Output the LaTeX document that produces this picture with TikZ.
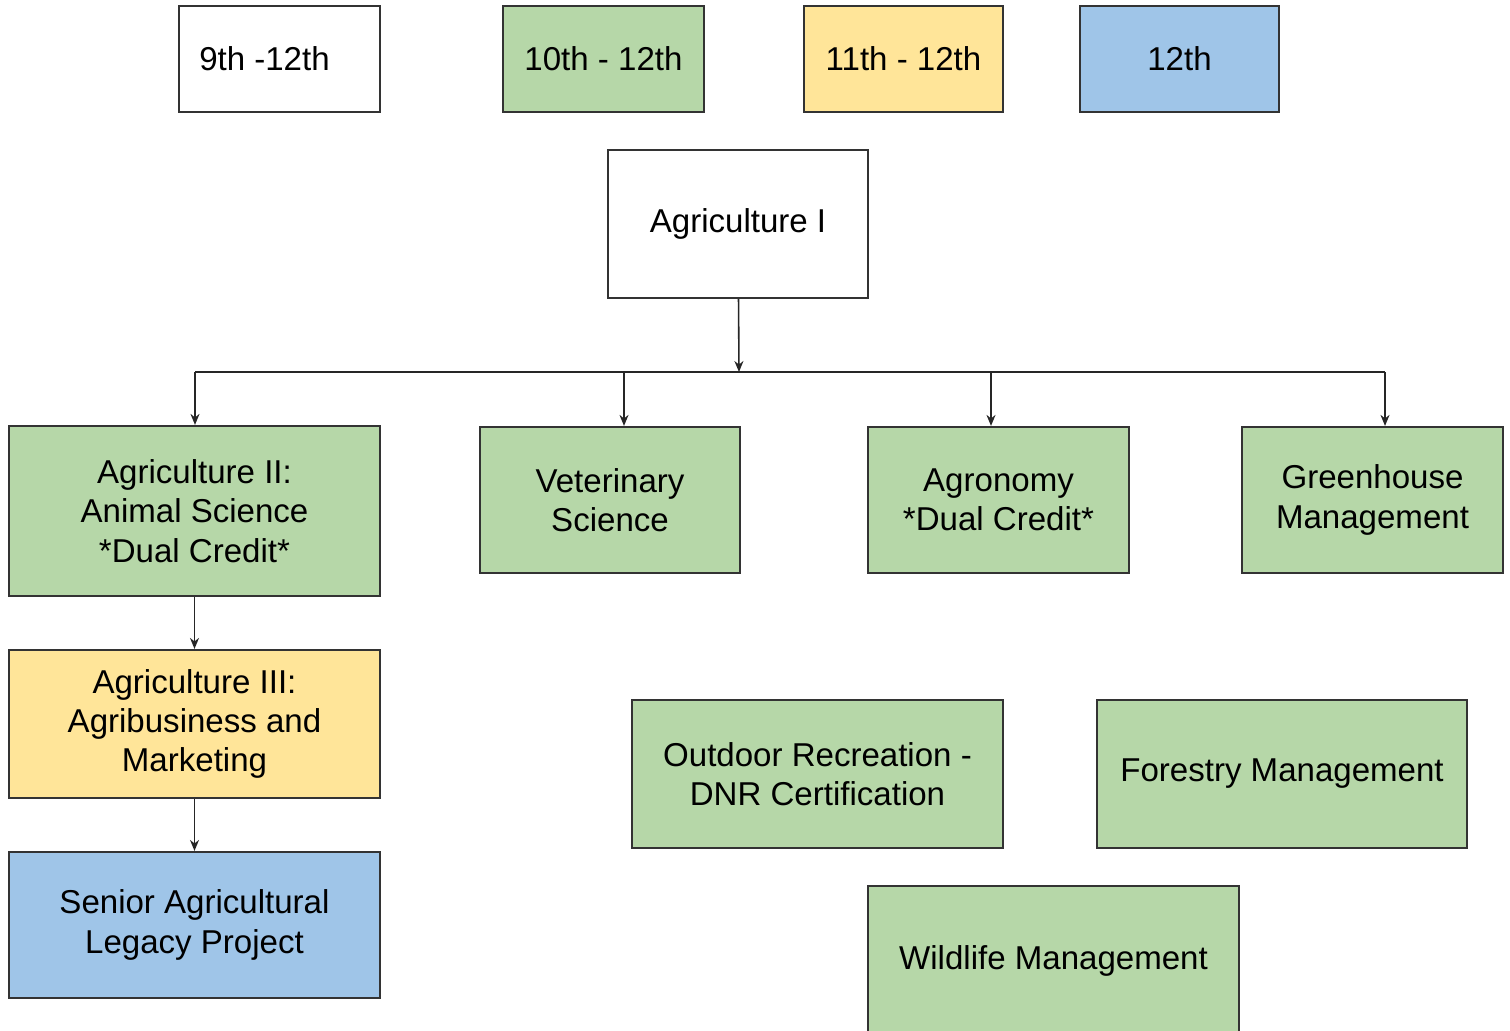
\documentclass[tikz,border=0pt]{standalone}
\usepackage{fontspec}
\setmainfont{Liberation Sans}
\usetikzlibrary{arrows.meta}
\usetikzlibrary{positioning}
\definecolor{tenth}{HTML}{B6D7A8}
\definecolor{eleventh}{HTML}{FFE599}
\definecolor{twelfth}{HTML}{9FC5E8}

\begin{document}
\begin{tikzpicture}[x=0.01cm,y=-0.01cm]

    % page size of the picture, pixels of the original
    \useasboundingbox (0,0) rectangle (1510,1030);

    % Add or remove courses here, use the tuple for location
    \begin{scope}[every node/.style={draw=black!80, line width=0.6pt, align=center,
                  inner sep=0pt, font=\fontsize{9.4}{11.2}\selectfont}]
    % grade legend
    \node[minimum width=2.01cm, minimum height=1.06cm] (g9) at (279.5,59) {9th -12th\hspace{0.3cm}};
    \node[fill=tenth, minimum width=2.01cm, minimum height=1.06cm] (g10) at (603.5,59) {10th - 12th};
    \node[fill=eleventh, minimum width=1.99cm, minimum height=1.06cm] (g11) at (903.5,59) {11th - 12th};
    \node[fill=twelfth, minimum width=1.99cm, minimum height=1.06cm] (g12) at (1179.5,59) {12th};

    % courses
    \node[minimum width=2.6cm, minimum height=1.48cm] (agI) at (738,224) {Agriculture I};
    \node[fill=tenth, minimum width=3.71cm, minimum height=1.70cm] (agII) at (194.5,511)
        {Agriculture II:\\Animal Science\\*Dual Credit*};
    \node[fill=tenth, minimum width=2.6cm, minimum height=1.46cm] (vet) at (610,500)
        {Veterinary\\Science};
    \node[fill=tenth, minimum width=2.61cm, minimum height=1.46cm] (agro) at (998.5,500)
        {Agronomy\\*Dual Credit*};
    \node[fill=tenth, minimum width=2.61cm, minimum height=1.46cm] (green) at (1372.5,500)
        {Greenhouse\\Management};
    \node[fill=eleventh, minimum width=3.71cm, minimum height=1.48cm] (agIII) at (194.5,724)
        {Agriculture III:\\Agribusiness and\\Marketing};
    \node[fill=twelfth, minimum width=3.71cm, minimum height=1.46cm] (senior) at (194.5,925)
        {Senior Agricultural\\Legacy Project};
    \node[fill=tenth, minimum width=3.71cm, minimum height=1.48cm] (outdoor) at (817.5,774)
        {Outdoor Recreation -\\DNR Certification};
    \node[fill=tenth, minimum width=3.70cm, minimum height=1.48cm] (forest) at (1282,774)
        {Forestry Management};
    \node[fill=tenth, minimum width=3.71cm, minimum height=1.50cm] (wild) at (1053.5,961)
        {Wildlife Management};
    \end{scope}

    % branch points on the bar under Agriculture I
    \coordinate (hub) at (739,372);
    \coordinate (b1) at (195,372);
    \coordinate (b2) at (624,372);
    \coordinate (b3) at (991,372);
    \coordinate (b4) at (1385,372);

    % Remove or add new edges here
    \begin{scope}[>={Stealth[length=1.1mm, width=0.9mm]},
              every edge/.style={draw=black!85, line width=0.45pt}]
    \path [->] (agI) edge (hub);
    \path [-] (b1) edge (b4);
    \path [->] (b1) edge (b1 |- agII.north);
    \path [->] (b2) edge (b2 |- vet.north);
    \path [->] (b3) edge (b3 |- agro.north);
    \path [->] (b4) edge (b4 |- green.north);
    \path [->] (agII) edge (agIII);
    \path [->] (agIII) edge (senior);
    \end{scope}

\end{tikzpicture}
\end{document}
